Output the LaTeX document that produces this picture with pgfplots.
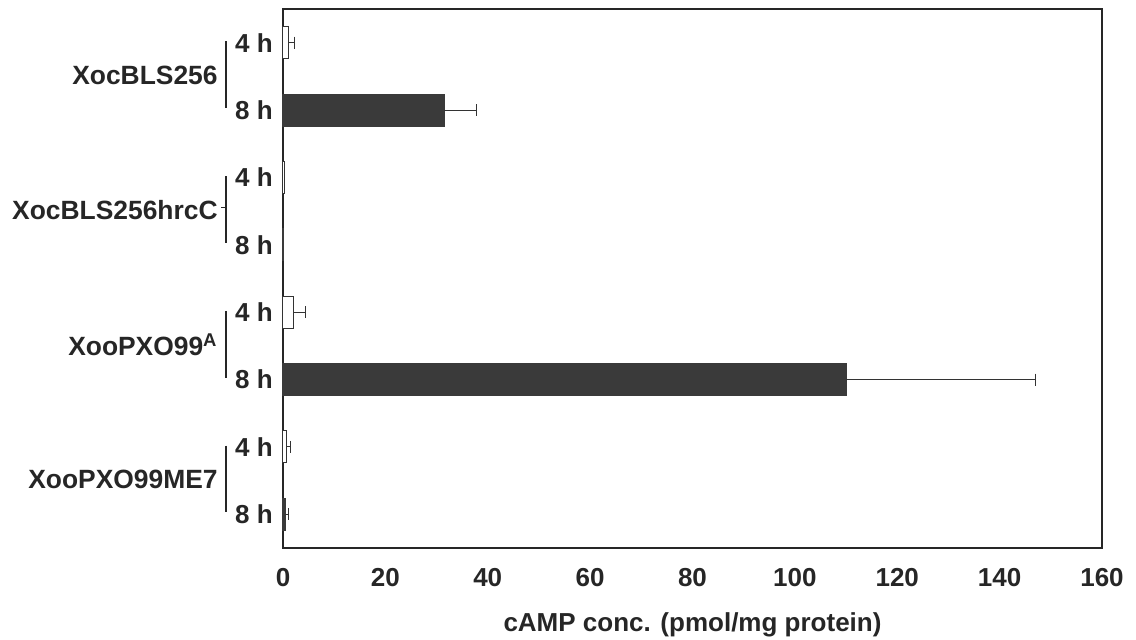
\documentclass[border=0pt]{standalone}
\usepackage{fontspec}
\setmainfont{Liberation Sans}
\usepackage{pgfplots}
\pgfplotsset{compat=1.18}
\definecolor{barD}{HTML}{3A3A3A}
\begin{document}
\begin{tikzpicture}
\begin{axis}[name=ax, scale only axis, width=409.5pt, height=269.5pt,
 xmin=0, xmax=160, ymin=-0.5, ymax=7.5, y dir=reverse,
 xtick={0,20,...,160}, ytick={0,...,7},
 yticklabels={4 h,8 h,4 h,8 h,4 h,8 h,4 h,8 h},
 major tick length=0pt,
 axis line style={line width=0.8pt, black!85},
 ticklabel style={font=\bfseries\fontsize{13}{15}\selectfont, text=black!85},
 /pgf/number format/assume math mode=true,
 xticklabel style={yshift=-6.5pt},
 yticklabel style={xshift=-1.6pt},
 xlabel={cAMP conc. (pmol/mg protein)},
 xlabel style={font=\bfseries\fontsize{13}{15}\selectfont, text=black!85, at={(axis description cs:0.5,0)}, anchor=center, yshift=-38.5pt},
 xbar, bar width=0.475, bar shift=0pt,
 clip=false,
 error bars/error bar style={line width=0.5pt, black!80},
 error bars/error mark options={rotate=90, mark size=3pt, line width=0.5pt},
]
% 4 h samples
\addplot[fill=white, draw=black!80, line width=0.5pt, error bars/.cd, x dir=plus, x explicit] coordinates {
 (1.0,0) +- (1.2,0)
 (2.1,4) +- (2.2,0)
 (0.7,6) +- (0.7,0)
};
% 8 h samples
\addplot[fill=barD, draw=barD, line width=0.5pt, error bars/.cd, x dir=plus, x explicit] coordinates {
 (31.5,1) +- (6.4,0)
 (110,5) +- (37,0)
 (0.5,7) +- (0.6,0)
};
% hrcC (no visible error)
\addplot[fill=white, draw=black!80, line width=0.5pt] coordinates {(0.3,2)};
\addplot[fill=barD, draw=barD, line width=0.5pt] coordinates {(0.1,3)};
\foreach \g in {0,2,4,6}{
  \edef\temp{\noexpand\draw[line width=0.8pt, black!85] ([xshift=-28.5pt]axis cs:0,\g-0.02) -- ([xshift=-28.5pt]axis cs:0,\g+0.97);}
  \temp
}
\node[anchor=east, inner sep=0pt, font=\bfseries\fontsize{13.2}{15}\selectfont, text=black!85] at ([xshift=-32.5pt]axis cs:0,0.48) {XocBLS256};
\node[anchor=east, inner sep=0pt, font=\bfseries\fontsize{13.2}{15}\selectfont, text=black!85] at ([xshift=-32.5pt]axis cs:0,2.48) {XocBLS256hrcC};
\node[anchor=east, inner sep=0pt, font=\bfseries\fontsize{13.2}{15}\selectfont, text=black!85] at ([xshift=-32.5pt]axis cs:0,4.48) {XooPXO99\textsuperscript{A}};
\node[anchor=east, inner sep=0pt, font=\bfseries\fontsize{13.2}{15}\selectfont, text=black!85] at ([xshift=-32.5pt]axis cs:0,6.48) {XooPXO99ME7};
\draw[line width=0.6pt, black!85] ([xshift=-28.5pt]axis cs:0,2.45) -- ([xshift=-31pt]axis cs:0,2.45);
\end{axis}
\pgfresetboundingbox
\path[use as bounding box] ([xshift=-141.5pt,yshift=-46pt]ax.south west) rectangle ([xshift=17pt,yshift=4.5pt]ax.north east);
\end{tikzpicture}
\end{document}
